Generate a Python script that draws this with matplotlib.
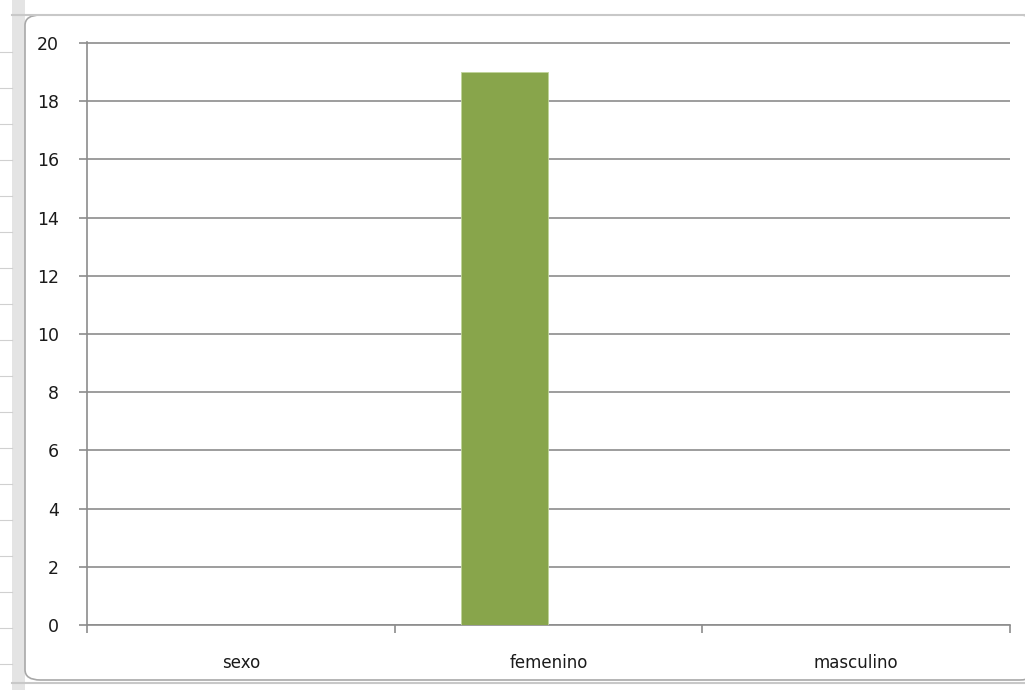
import matplotlib.pyplot as plt
from matplotlib.patches import FancyBboxPatch, Rectangle
import numpy as np

categorias = ['sexo', 'femenino', 'masculino']
serie1 = [0, 19, 0]
serie2 = [0, 0, 0]
yticks = list(range(0, 21, 2))

fig = plt.figure(figsize=(10.25, 6.9), dpi=100)
fig.patch.set_facecolor('white')

W, H = 1025.0, 690.0

# franja de la hoja de cálculo a la izquierda
fig.patches.append(Rectangle((12 / W, 0), 13 / W, 1, transform=fig.transFigure,
                             facecolor='#e4e4e4', edgecolor='none', zorder=0))
for yy in [52, 88, 124, 160, 196, 232, 268, 304, 340, 376, 412, 448, 484, 520, 556, 592, 628, 664]:
    fig.add_artist(plt.Line2D([0, 12 / W], [1 - yy / H, 1 - yy / H], color='#d0d0d0', lw=0.8))
fig.add_artist(plt.Line2D([0.012, 1], [1 - 15 / H, 1 - 15 / H], color='#c8c8c8', lw=1.5))
fig.add_artist(plt.Line2D([0.012, 1], [1 - 683 / H, 1 - 683 / H], color='#c8c8c8', lw=1.5))

# marco del gráfico con esquinas redondeadas
marco = FancyBboxPatch((25 / W, 10 / H), 1010 / W, 665 / H,
                       boxstyle='round,pad=0,rounding_size=0.015',
                       transform=fig.transFigure, facecolor='white',
                       edgecolor='#a8a8a8', lw=1.2, zorder=1)
fig.patches.append(marco)

ax = fig.add_axes([87 / W, 65 / H, 923 / W, 583 / H])
ax.set_zorder(2)
ax.patch.set_alpha(0)

# barras agrupadas: dos series por categoría
x = np.arange(len(categorias))
ancho = 0.286
ax.bar(x - ancho / 2, serie1, width=ancho, color='#88a54b', edgecolor='#c0d49a', lw=0.6, zorder=3)
ax.bar(x + ancho / 2, serie2, width=ancho, color='#4f81bd', lw=0, zorder=3)

ax.set_xlim(-0.5, 2.5)
ax.set_ylim(0, 20.03)
ax.set_yticks(yticks)
ax.yaxis.grid(True, color='#8c8c8c', lw=1.2)
ax.set_axisbelow(True)

ax.set_xticks(x)
ax.set_xticklabels(categorias, fontsize=12, color='#1a1a1a')
ax.set_xticks([-0.5, 0.5, 1.5, 2.5], minor=True)
ax.tick_params(axis='x', which='major', length=0, pad=21)
ax.tick_params(axis='x', which='minor', length=6, color='#8c8c8c', width=1.2, direction='out')
ax.tick_params(axis='y', length=6, color='#8c8c8c', width=1.2, labelsize=12.5,
               labelcolor='#1a1a1a', pad=14)

for s in ['top', 'right']:
    ax.spines[s].set_visible(False)
for s in ['left', 'bottom']:
    ax.spines[s].set_color('#8c8c8c')
    ax.spines[s].set_linewidth(1.2)

fig.savefig('out.png', dpi=100)
